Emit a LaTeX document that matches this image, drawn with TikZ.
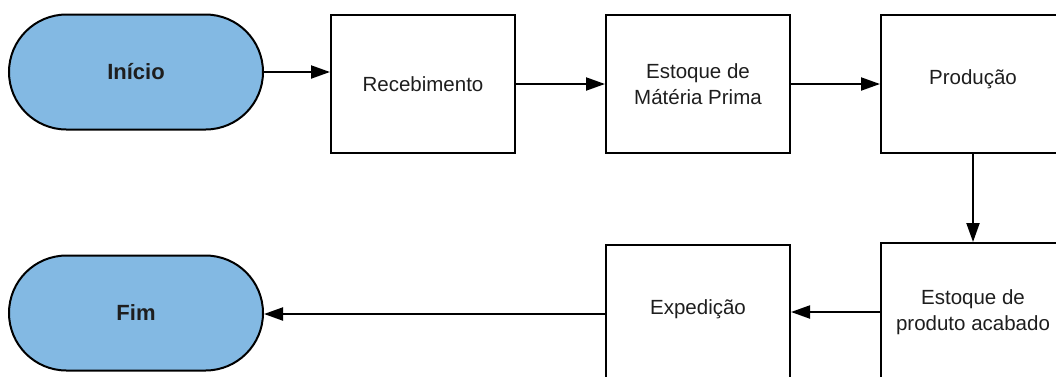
\documentclass[tikz,border=0pt]{standalone}
\usepackage{fontspec}
\setmainfont{Liberation Sans}
\usetikzlibrary{shapes.misc,arrows.meta}
\definecolor{termblue}{RGB}{131,185,227}
\definecolor{txt}{RGB}{30,30,30}
\tikzset{
  terminal/.style={rounded rectangle, draw=black, line width=2pt, fill=termblue,
    minimum width=254pt, minimum height=115pt, inner sep=0pt,
    font=\fontsize{22}{26}\selectfont\bfseries, text=txt},
  procbox/.style={rectangle, draw=black, line width=2pt, fill=white,
    minimum width=184pt, minimum height=138pt, inner sep=0pt, align=center,
    font=\fontsize{20.5}{26}\selectfont, text=txt},
  flow/.style={line width=2pt, -{Triangle[length=19pt,width=13pt]}}
}
\begin{document}
\begin{tikzpicture}[x=1pt,y=-1pt]
\useasboundingbox (0,0) rectangle (1056,376);
\clip (0,0) rectangle (1056,376);
\fill[white] (0,0) rectangle (1056,376);
\node[terminal] (inicio) at (136,72) {Início};
\node[procbox] (receb) at (423,84) {Recebimento};
\node[procbox] (estmp) at (698,84) {Estoque de\\Mátéria Prima};
\node[procbox] (prod) at (973,84) {};
\node[font=\fontsize{20.5}{26}\selectfont, text=txt] (prodt) at (973,79) {Produção};
\node[procbox] (estpa) at (973,312) {Estoque de\\produto acabado};
\node[procbox] (exped) at (698,314) {};
\node[font=\fontsize{20.5}{26}\selectfont, text=txt] (expedt) at (698,309) {Expedição};
\node[terminal] (fim) at (136,313) {Fim};
\draw[flow] (inicio.east) -- (inicio.east -| receb.west);
\draw[flow] (receb.east) -- (estmp.west);
\draw[flow] (estmp.east) -- (prod.west);
\draw[flow] (prod.south) -- (estpa.north);
\draw[flow] (estpa.west) -- (estpa.west -| exped.east);
\draw[flow] (exped.west) -- (exped.west -| fim.east);
\end{tikzpicture}
\end{document}
